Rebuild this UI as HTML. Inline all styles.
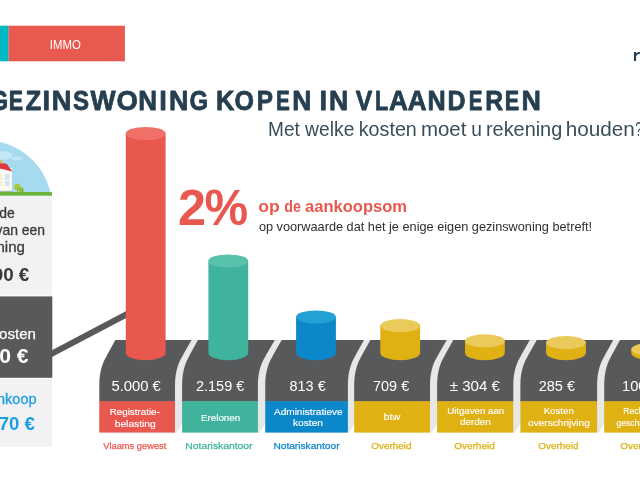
<!DOCTYPE html>
<html lang="nl">
<head>
<meta charset="utf-8">
<title>Gezinswoning kopen in Vlaanderen</title>
<style>
  html, body { margin: 0; padding: 0; background: #ffffff; }
  body { width: 640px; height: 480px; overflow: hidden; font-family: "Liberation Sans", sans-serif; }
  svg { display: block; will-change: transform; }
  text { font-family: "Liberation Sans", sans-serif; }
</style>
</head>
<body>
<svg width="640" height="480" viewBox="0 0 640 480">
  <rect x="0" y="0" width="640" height="480" fill="#ffffff"/>

  <!-- header tag -->
  <rect x="0" y="25.7" width="8.7" height="35.6" fill="#00b8c5"/>
  <rect x="8.6" y="25.7" width="116.3" height="35.6" fill="#e85a50"/>
  <text x="49.87" y="48.6" font-size="12.6" textLength="31.01" lengthAdjust="spacingAndGlyphs" fill="#ffffff">IMMO</text>

  <!-- logo fragment (cropped) -->
  <rect x="633.95" y="52.0" width="2.15" height="9.0" fill="#263f50"/>
  <path d="M635.6,55.4 C636.6,53.4 638.4,52.7 641,52.9" fill="none" stroke="#263f50" stroke-width="1.9"/>

  <!-- titles -->
  <g fill="#263f50" stroke="#263f50" stroke-width="0.8" stroke-linejoin="round">
    <text y="110" font-size="28" font-weight="bold"><tspan x="-9.61" textLength="17.66" lengthAdjust="spacingAndGlyphs">G</tspan><tspan x="8.66" textLength="14.35" lengthAdjust="spacingAndGlyphs">E</tspan><tspan x="25.51" textLength="15.67" lengthAdjust="spacingAndGlyphs">Z</tspan><tspan x="42.45" textLength="7.59" lengthAdjust="spacingAndGlyphs">I</tspan><tspan x="51.86" textLength="19.67" lengthAdjust="spacingAndGlyphs">N</tspan><tspan x="73.06" textLength="16.07" lengthAdjust="spacingAndGlyphs">S</tspan><tspan x="90.60" textLength="25.08" lengthAdjust="spacingAndGlyphs">W</tspan><tspan x="116.47" textLength="21.39" lengthAdjust="spacingAndGlyphs">O</tspan><tspan x="138.24" textLength="18.80" lengthAdjust="spacingAndGlyphs">N</tspan><tspan x="159.25" textLength="7.59" lengthAdjust="spacingAndGlyphs">I</tspan><tspan x="169.08" textLength="19.42" lengthAdjust="spacingAndGlyphs">N</tspan><tspan x="189.53" textLength="18.59" lengthAdjust="spacingAndGlyphs">G</tspan> <tspan x="215.89" textLength="18.35" lengthAdjust="spacingAndGlyphs">K</tspan><tspan x="234.58" textLength="19.46" lengthAdjust="spacingAndGlyphs">O</tspan><tspan x="256.66" textLength="16.26" lengthAdjust="spacingAndGlyphs">P</tspan><tspan x="276.12" textLength="13.86" lengthAdjust="spacingAndGlyphs">E</tspan><tspan x="292.22" textLength="19.05" lengthAdjust="spacingAndGlyphs">N</tspan> <tspan x="319.55" textLength="7.59" lengthAdjust="spacingAndGlyphs">I</tspan><tspan x="329.00" textLength="19.18" lengthAdjust="spacingAndGlyphs">N</tspan> <tspan x="355.78" textLength="16.49" lengthAdjust="spacingAndGlyphs">V</tspan><tspan x="375.06" textLength="13.21" lengthAdjust="spacingAndGlyphs">L</tspan><tspan x="388.90" textLength="18.89" lengthAdjust="spacingAndGlyphs">A</tspan><tspan x="407.70" textLength="18.78" lengthAdjust="spacingAndGlyphs">A</tspan><tspan x="427.60" textLength="18.18" lengthAdjust="spacingAndGlyphs">N</tspan><tspan x="447.61" textLength="18.09" lengthAdjust="spacingAndGlyphs">D</tspan><tspan x="468.63" textLength="13.74" lengthAdjust="spacingAndGlyphs">E</tspan><tspan x="485.13" textLength="17.92" lengthAdjust="spacingAndGlyphs">R</tspan><tspan x="504.86" textLength="14.41" lengthAdjust="spacingAndGlyphs">E</tspan><tspan x="521.48" textLength="19.43" lengthAdjust="spacingAndGlyphs">N</tspan></text>
  </g>
  <text y="136.4" font-size="19.5" fill="#3a4e5a"><tspan x="268.04" textLength="31.72" lengthAdjust="spacingAndGlyphs">Met</tspan> <tspan x="305.10" textLength="49.25" lengthAdjust="spacingAndGlyphs">welke</tspan> <tspan x="358.74" textLength="58.08" lengthAdjust="spacingAndGlyphs">kosten</tspan> <tspan x="420.94" textLength="45.42" lengthAdjust="spacingAndGlyphs">moet</tspan> <tspan x="471.27" textLength="10.66" lengthAdjust="spacingAndGlyphs">u</tspan> <tspan x="485.98" textLength="76.26" lengthAdjust="spacingAndGlyphs">rekening</tspan> <tspan x="565.67" textLength="69.14" lengthAdjust="spacingAndGlyphs">houden</tspan><tspan x="635.33" textLength="6.81" lengthAdjust="spacingAndGlyphs">?</tspan></text>

  <!-- house illustration (cropped at left) -->
  <g>
    <clipPath id="skyclip"><rect x="0" y="130" width="60" height="62"/></clipPath>
    <g clip-path="url(#skyclip)">
      <circle cx="-15.2" cy="207.5" r="67.3" fill="#a6daee"/>
      <ellipse cx="3" cy="155.5" rx="9.5" ry="4.2" fill="#c4e6f5"/>
      <ellipse cx="17" cy="158.5" rx="5.5" ry="2.2" fill="#bfe4f4"/>
    </g>
    <rect x="0" y="168" width="11.9" height="24" fill="#fcf9f4"/>
    <polygon points="0,162.9 6.6,163.7 12.4,171.4 0,168.4" fill="#e03a40"/>
    <rect x="0" y="160.2" width="1.7" height="3.2" fill="#e8b233"/>
    <rect x="4.8" y="173.8" width="4.8" height="6.0" fill="#d3e4f3"/>
    <rect x="4.8" y="181.2" width="4.8" height="4.6" fill="#d3e4f3"/>
    <rect x="0" y="173.8" width="2.2" height="6.0" fill="#f6eed6"/>
    <rect x="0" y="181.2" width="2.2" height="4.6" fill="#f6eed6"/>
    <rect x="0" y="190.8" width="12.6" height="1.6" fill="#9cc3a8"/>
    <ellipse cx="17.3" cy="187" rx="3.3" ry="3.2" fill="#a0cc3c"/>
    <ellipse cx="21.3" cy="189.9" rx="2.5" ry="2.5" fill="#8cbc32"/>
    <rect x="17.0" y="188.8" width="0.8" height="3.6" fill="#7d9a35"/>
    <rect x="0" y="192" width="51.9" height="3.9" fill="#6cb43c"/>
  </g>

  <!-- left summary panel (cropped) -->
  <rect x="0" y="195.8" width="51.9" height="99.6" fill="#f2f2f5"/>
  <rect x="0" y="296.4" width="52.3" height="81.4" fill="#58595b"/>
  <rect x="0" y="378.8" width="52" height="68.2" fill="#f2f2f5"/>
  <text x="-0.68" y="217.8" font-size="14.6" textLength="15.48" lengthAdjust="spacingAndGlyphs" fill="#3a3a3c" stroke="#3a3a3c" stroke-width="0.3">de</text>
  <text x="-4.54" y="234.7" font-size="14.6" textLength="49.53" lengthAdjust="spacingAndGlyphs" fill="#3a3a3c" stroke="#3a3a3c" stroke-width="0.3">van een</text>
  <text x="-3.53" y="251.6" font-size="14.6" textLength="28.40" lengthAdjust="spacingAndGlyphs" fill="#3a3a3c" stroke="#3a3a3c" stroke-width="0.3">ning</text>
  <text x="-7.35" y="281.2" font-size="18.8" textLength="36.67" lengthAdjust="spacingAndGlyphs" fill="#3a3a3c" font-weight="bold">00 €</text>
  <text x="-0.92" y="339.2" font-size="14.6" textLength="36.90" lengthAdjust="spacingAndGlyphs" fill="#ffffff" stroke="#ffffff" stroke-width="0.25">osten</text>
  <text x="-0.81" y="362.5" font-size="19.6" textLength="29.35" lengthAdjust="spacingAndGlyphs" fill="#ffffff" font-weight="bold">0 €</text>
  <text x="-2.99" y="404.3" font-size="14.6" textLength="39.50" lengthAdjust="spacingAndGlyphs" fill="#1c9fe2" stroke="#1c9fe2" stroke-width="0.3">nkoop</text>
  <text x="-1.22" y="430.3" font-size="19.2" textLength="36.07" lengthAdjust="spacingAndGlyphs" fill="#1c9fe2" font-weight="bold">70 €</text>

  <!-- connector line -->
  <line x1="50" y1="354.6" x2="130" y2="312.5" stroke="#58595b" stroke-width="6.1"/>

  <!-- platforms -->
  <path d="M190.50,340.00 L182.25,354.60 C177.96,362.20 174.00,370.00 174.00,386.00 L174.00,432.60 L176.60,432.60 L183.10,422.10 L183.10,386.00 C183.10,370.00 186.89,362.20 191.00,354.60 L198.90,340.00 Z" fill="#e6e7e8"/>
  <path d="M273.80,340.00 L265.35,354.60 C260.96,362.20 256.90,370.00 256.90,386.00 L256.90,432.60 L259.50,432.60 L266.25,422.10 L266.25,386.00 C266.25,370.00 270.20,362.20 274.48,354.60 L282.70,340.00 Z" fill="#e6e7e8"/>
  <path d="M363.00,340.00 L354.95,354.60 C350.76,362.20 346.90,370.00 346.90,386.00 L346.90,432.60 L349.50,432.60 L355.20,422.10 L355.20,386.00 C355.20,370.00 359.09,362.20 363.30,354.60 L371.40,340.00 Z" fill="#e6e7e8"/>
  <path d="M445.70,340.00 L437.35,354.60 C433.01,362.20 429.00,370.00 429.00,386.00 L429.00,432.60 L431.60,432.60 L438.10,422.10 L438.10,386.00 C438.10,370.00 441.99,362.20 446.20,354.60 L454.30,340.00 Z" fill="#e6e7e8"/>
  <path d="M528.80,340.00 L520.55,354.60 C516.26,362.20 512.30,370.00 512.30,386.00 L512.30,432.60 L514.90,432.60 L521.40,422.10 L521.40,386.00 C521.40,370.00 525.34,362.20 529.60,354.60 L537.80,340.00 Z" fill="#e6e7e8"/>
  <path d="M612.30,340.00 L604.20,354.60 C599.99,362.20 596.10,370.00 596.10,386.00 L596.10,432.60 L598.70,432.60 L605.20,422.10 L605.20,386.00 C605.20,370.00 608.99,362.20 613.10,354.60 L621.00,340.00 Z" fill="#e6e7e8"/>
  <path d="M115.40,340.00 L107.35,354.60 C103.16,362.20 99.30,370.00 99.30,386.00 L99.30,401.70 L175.00,401.70 L175.00,386.00 C175.00,370.00 178.96,362.20 183.25,354.60 L191.50,340.00 Z" fill="#58595b"/>
  <rect x="99.30" y="401.20" width="75.70" height="31.40" fill="#e8584f"/>
  <path d="M197.90,340.00 L190.00,354.60 C185.89,362.20 182.10,370.00 182.10,386.00 L182.10,401.70 L257.90,401.70 L257.90,386.00 C257.90,370.00 261.96,362.20 266.35,354.60 L274.80,340.00 Z" fill="#58595b"/>
  <rect x="182.10" y="401.20" width="75.80" height="31.40" fill="#3fb39c"/>
  <path d="M281.70,340.00 L273.48,354.60 C269.20,362.20 265.25,370.00 265.25,386.00 L265.25,401.70 L347.90,401.70 L347.90,386.00 C347.90,370.00 351.76,362.20 355.95,354.60 L364.00,340.00 Z" fill="#58595b"/>
  <rect x="265.25" y="401.20" width="82.65" height="31.40" fill="#0c87c9"/>
  <path d="M370.40,340.00 L362.30,354.60 C358.09,362.20 354.20,370.00 354.20,386.00 L354.20,401.70 L430.00,401.70 L430.00,386.00 C430.00,370.00 434.01,362.20 438.35,354.60 L446.70,340.00 Z" fill="#58595b"/>
  <rect x="354.20" y="401.20" width="75.80" height="31.40" fill="#dfb112"/>
  <path d="M453.30,340.00 L445.20,354.60 C440.99,362.20 437.10,370.00 437.10,386.00 L437.10,401.70 L513.30,401.70 L513.30,386.00 C513.30,370.00 517.26,362.20 521.55,354.60 L529.80,340.00 Z" fill="#58595b"/>
  <rect x="437.10" y="401.20" width="76.20" height="31.40" fill="#dfb112"/>
  <path d="M536.80,340.00 L528.60,354.60 C524.34,362.20 520.40,370.00 520.40,386.00 L520.40,401.70 L597.10,401.70 L597.10,386.00 C597.10,370.00 600.99,362.20 605.20,354.60 L613.30,340.00 Z" fill="#58595b"/>
  <rect x="520.40" y="401.20" width="76.70" height="31.40" fill="#dfb112"/>
  <path d="M620.00,340.00 L612.10,354.60 C607.99,362.20 604.20,370.00 604.20,386.00 L604.20,401.70 L681.00,401.70 L681.00,386.00 C681.00,370.00 684.84,362.20 689.00,354.60 L697.00,340.00 Z" fill="#58595b"/>
  <rect x="604.20" y="401.20" width="76.80" height="31.40" fill="#dfb112"/>
  <!-- cylinders -->
  <path d="M125.80,133.50 L125.80,352.80 A19.9,7.5 0 0 0 165.60,352.80 L165.60,133.50 Z" fill="#e8584f"/>
  <ellipse cx="145.70" cy="133.50" rx="19.9" ry="6.6" fill="#f07067"/>
  <path d="M208.40,261.00 L208.40,352.80 A19.9,7.5 0 0 0 248.20,352.80 L248.20,261.00 Z" fill="#3fb39c"/>
  <ellipse cx="228.30" cy="261.00" rx="19.9" ry="6.6" fill="#57c1ab"/>
  <path d="M296.10,317.00 L296.10,352.80 A19.9,7.5 0 0 0 335.90,352.80 L335.90,317.00 Z" fill="#0c87c9"/>
  <ellipse cx="316.00" cy="317.00" rx="19.9" ry="6.6" fill="#23a0d4"/>
  <path d="M380.30,325.60 L380.30,352.80 A19.9,7.5 0 0 0 420.10,352.80 L420.10,325.60 Z" fill="#dfb112"/>
  <ellipse cx="400.20" cy="325.60" rx="19.9" ry="6.6" fill="#e9ca5a"/>
  <path d="M465.00,340.90 L465.00,352.80 A19.9,7.5 0 0 0 504.80,352.80 L504.80,340.90 Z" fill="#dfb112"/>
  <ellipse cx="484.90" cy="340.90" rx="19.9" ry="6.6" fill="#e9ca5a"/>
  <path d="M546.10,342.60 L546.10,352.80 A19.9,7.5 0 0 0 585.90,352.80 L585.90,342.60 Z" fill="#dfb112"/>
  <ellipse cx="566.00" cy="342.60" rx="19.9" ry="6.6" fill="#e9ca5a"/>
  <path d="M631.30,349.30 L631.30,352.80 A19.9,7.5 0 0 0 671.10,352.80 L671.10,349.30 Z" fill="#dfb112"/>
  <ellipse cx="651.20" cy="349.30" rx="19.9" ry="6.6" fill="#e9ca5a"/>
  <!-- values -->
  <g fill="#ffffff">
    <text x="111.45" y="391.0" font-size="14.8" textLength="49.43" lengthAdjust="spacingAndGlyphs">5.000 €</text>
    <text x="195.97" y="391.0" font-size="14.8" textLength="48.30" lengthAdjust="spacingAndGlyphs">2.159 €</text>
    <text x="289.57" y="391.0" font-size="14.8" textLength="36.11" lengthAdjust="spacingAndGlyphs">813 €</text>
    <text x="372.97" y="391.0" font-size="14.8" textLength="36.21" lengthAdjust="spacingAndGlyphs">709 €</text>
    <text x="449.69" y="391.0" font-size="14.8" textLength="50.28" lengthAdjust="spacingAndGlyphs">± 304 €</text>
    <text x="538.66" y="391.0" font-size="14.8" textLength="36.41" lengthAdjust="spacingAndGlyphs">285 €</text>
    <text x="621.95" y="391.0" font-size="14.8" textLength="36.93" lengthAdjust="spacingAndGlyphs">100 €</text>
  </g>
  <!-- labels -->
  <g fill="#ffffff" stroke="#ffffff" stroke-width="0.15">
    <text x="109.76" y="414.7" font-size="9.9" textLength="50.04" lengthAdjust="spacingAndGlyphs">Registratie-</text>
    <text x="114.72" y="426.5" font-size="9.9" textLength="41.03" lengthAdjust="spacingAndGlyphs">belasting</text>
    <text x="200.95" y="420.6" font-size="9.9" textLength="39.27" lengthAdjust="spacingAndGlyphs">Erelonen</text>
    <text x="274.00" y="415.0" font-size="9.9" textLength="68.62" lengthAdjust="spacingAndGlyphs">Administratieve</text>
    <text x="293.03" y="426.2" font-size="9.9" textLength="30.00" lengthAdjust="spacingAndGlyphs">kosten</text>
    <text x="383.58" y="420.0" font-size="9.9" textLength="16.78" lengthAdjust="spacingAndGlyphs">btw</text>
    <text x="447.17" y="413.6" font-size="9.9" textLength="57.02" lengthAdjust="spacingAndGlyphs">Uitgaven aan</text>
    <text x="459.90" y="425.4" font-size="9.9" textLength="31.01" lengthAdjust="spacingAndGlyphs">derden</text>
    <text x="543.67" y="413.75" font-size="9.9" textLength="30.12" lengthAdjust="spacingAndGlyphs">Kosten</text>
    <text x="528.09" y="425.8" font-size="9.9" textLength="61.75" lengthAdjust="spacingAndGlyphs">overschrijving</text>
    <text x="623.36" y="413.75" font-size="9.9" textLength="34.00" lengthAdjust="spacingAndGlyphs">Recht op</text>
    <text x="616.47" y="425.8" font-size="9.9" textLength="41.55" lengthAdjust="spacingAndGlyphs">geschriften</text>
  </g>
  <!-- captions -->
  <g stroke-width="0.25">
    <text x="103.26" y="449.4" font-size="9.6" textLength="63.10" lengthAdjust="spacingAndGlyphs" fill="#e8584f" stroke="#e8584f">Vlaams gewest</text>
    <text x="185.39" y="449.4" font-size="9.6" textLength="67.06" lengthAdjust="spacingAndGlyphs" fill="#3fb39c" stroke="#3fb39c">Notariskantoor</text>
    <text x="273.40" y="449.4" font-size="9.6" textLength="66.14" lengthAdjust="spacingAndGlyphs" fill="#0c87c9" stroke="#0c87c9">Notariskantoor</text>
    <text x="371.28" y="449.4" font-size="9.6" textLength="40.33" lengthAdjust="spacingAndGlyphs" fill="#dfb112" stroke="#dfb112">Overheid</text>
    <text x="454.18" y="449.4" font-size="9.6" textLength="40.64" lengthAdjust="spacingAndGlyphs" fill="#dfb112" stroke="#dfb112">Overheid</text>
    <text x="538.39" y="449.4" font-size="9.6" textLength="40.02" lengthAdjust="spacingAndGlyphs" fill="#dfb112" stroke="#dfb112">Overheid</text>
    <text x="620.38" y="449.4" font-size="9.6" textLength="40.33" lengthAdjust="spacingAndGlyphs" fill="#dfb112" stroke="#dfb112">Overheid</text>
  </g>

  <!-- 2% callout -->
  <text y="224.6" font-size="50" font-weight="bold" fill="#e8584f"><tspan x="177.99" textLength="27.99" lengthAdjust="spacingAndGlyphs">2</tspan><tspan x="204.52" textLength="43.67" lengthAdjust="spacingAndGlyphs">%</tspan></text>
  <text y="211.6" font-size="16" font-weight="bold" fill="#e8584f"><tspan x="258.18" textLength="21.45" lengthAdjust="spacingAndGlyphs">op</tspan> <tspan x="284.23" textLength="16.67" lengthAdjust="spacingAndGlyphs">de</tspan> <tspan x="305.08" textLength="101.88" lengthAdjust="spacingAndGlyphs">aankoopsom</tspan></text>
  <text x="258.90" y="231.1" font-size="12.8" textLength="333.18" lengthAdjust="spacingAndGlyphs" fill="#2f2f31">op voorwaarde dat het je enige eigen gezinswoning betreft!</text>
</svg>
</body>
</html>
